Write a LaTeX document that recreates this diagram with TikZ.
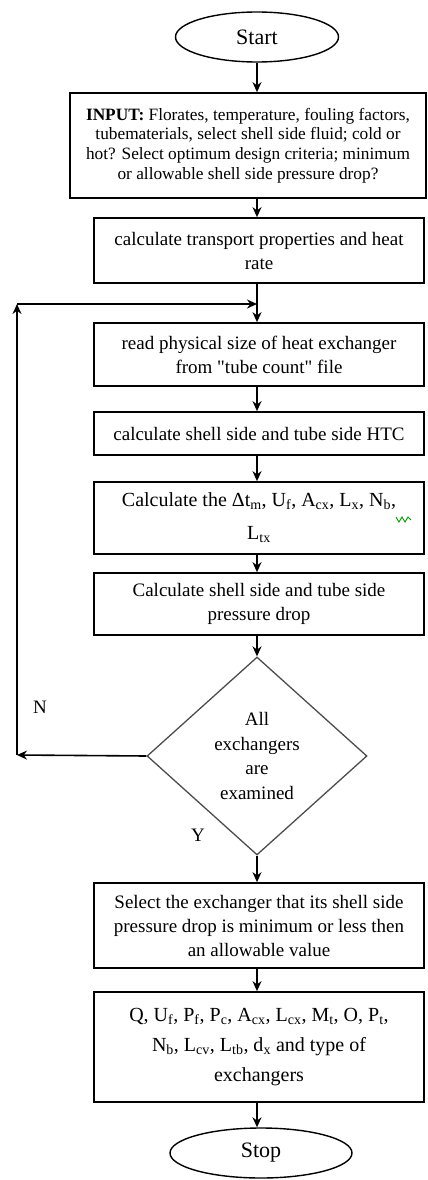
\documentclass[tikz,border=0pt]{standalone}
\usepackage{fontspec}
\setmainfont{Liberation Serif}
\newfontfamily\qfont{Liberation Serif}
\usetikzlibrary{shapes.geometric,arrows.meta}
\newcommand\sbx[1]{\textsubscript{#1}}
\newcommand\sq{{\qfont"}}
\begin{document}
\begin{tikzpicture}[x=1pt,y=1pt,
  box/.style={draw=black,line width=1.7pt,rectangle,minimum width=330,align=center,inner sep=2pt,
    font=\fontsize{19}{24}\selectfont},
  term/.style={draw=black,line width=1.4pt,ellipse,font=\fontsize{22}{26}\selectfont},
  dec/.style={draw=black!70,line width=1.3pt,diamond,minimum width=220,minimum height=198,
    align=center,inner sep=0pt,font=\fontsize{19}{24.5}\selectfont},
  arr/.style={line width=1.6pt,-{Stealth[length=10pt,width=9pt]}},
  lbl/.style={font=\fontsize{19}{22}\selectfont}]
\useasboundingbox (0,0) rectangle (428,-1180);
\node[term,minimum width=163,minimum height=50] (start) at (257,-37) {Start};
\node[box,minimum width=356,minimum height=105,font=\fontsize{17.3}{19.6}\selectfont] (input) at (248,-145.5)
  {\textbf{INPUT:} Florates, temperature, fouling factors,\\tubematerials, select shell side fluid; cold or\\hot? Select optimum design criteria; minimum\\or allowable shell side pressure drop?};
\node[box,minimum height=65] (b2) at (259,-250.5) {calculate transport properties and heat\\rate};
\node[box,minimum height=63] (b3) at (259,-354.5) {read physical size of heat exchanger\\from \sq tube count\sq{} file};
\node[box,minimum height=43] (b4) at (259,-433.5) {calculate shell side and tube side HTC};
\node[box,minimum height=72,font=\fontsize{20}{33}\selectfont] (b5) at (259,-518)
  {Calculate the Δt\sbx{m}, U\sbx{f}, A\sbx{cx}, L\sbx{x}, N\sbx{b},\\L\sbx{tx}};
\node[box,minimum height=62] (b6) at (259,-604) {Calculate shell side and tube side\\pressure drop};
\node[dec] (d) at (257,-756) {All\\exchangers\\are\\examined};
\node[box,minimum height=85] (b7) at (259,-925.5) {Select the exchanger that its shell side\\pressure drop is minimum or less then\\an allowable value};
\node[box,minimum height=110,font=\fontsize{20}{30}\selectfont] (b8) at (259,-1047)
  {Q, U\sbx{f}, P\sbx{f}, P\sbx{c}, A\sbx{cx}, L\sbx{cx}, M\sbx{t}, O, P\sbx{t},\\N\sbx{b}, L\sbx{cv}, L\sbx{tb}, d\sbx{x} and type of\\exchangers};
\node[term,minimum width=182,minimum height=50] (stop) at (261,-1153) {Stop};
\node[lbl] (nl) at (40,-707) {N};
\node[lbl] (yl) at (198,-835) {Y};
\coordinate (j) at (257,-304);
\coordinate (lb) at (17,-755);
\coordinate (lt) at (17,-304);
% spine arrows
\draw[arr] (start.south) -- (start.south |- input.north);
\draw[arr] (start |- input.south) -- (start |- b2.north);
\draw[arr] (start |- b2.south) -- (start |- b3.north);
\draw[arr] (start |- b3.south) -- (start |- b4.north);
\draw[arr] (start |- b4.south) -- (start |- b5.north);
\draw[arr] (start |- b5.south) -- (start |- b6.north);
\draw[arr] (start |- b6.south) -- (d.north);
\draw[arr] (d.south) -- (start |- b7.north);
\draw[arr] (start |- b7.south) -- (start |- b8.north);
\draw[arr] (start |- b8.south) -- (start |- stop.north);
% loop
\draw[arr] (d.west) -- (lb);
\draw[arr] (lb) -- (lt);
\draw[arr] (lt) -- (j);
% spell-check squiggle
\draw[green!60!black,line width=0.9pt] (396,-517) -- (399,-522) -- (402,-517) -- (405,-522) -- (408,-517) -- (411,-520);
\end{tikzpicture}
\end{document}
